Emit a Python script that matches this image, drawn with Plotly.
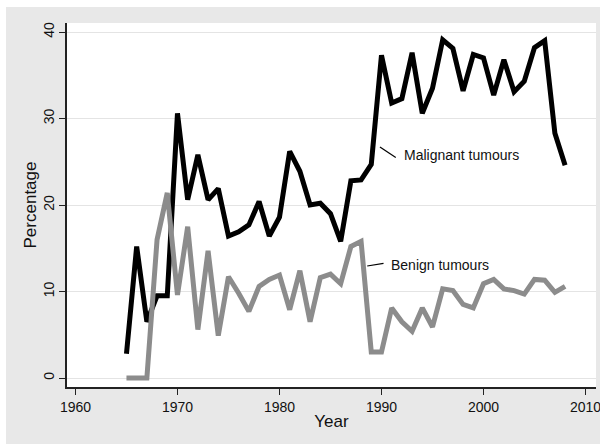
import plotly.graph_objects as go

years = list(range(1965, 2009))

malignant = [
    2.8, 15.2, 6.5, 9.5, 9.5, 30.6, 20.6, 25.8, 20.6, 21.9,
    16.4, 16.9, 17.7, 20.4, 16.4, 18.6, 26.2, 23.9, 20.0, 20.2,
    19.0, 15.8, 22.8, 22.9, 24.7, 37.3, 31.8, 32.3, 37.6, 30.6,
    33.5, 39.1, 38.1, 33.2, 37.4, 37.0, 32.7, 36.8, 33.1, 34.3,
    38.2, 39.0, 28.3, 24.6,
]
benign = [
    0.0, 0.0, 0.0, 16.0, 21.4, 9.6, 17.5, 5.6, 14.7, 4.9,
    11.7, 9.8, 7.7, 10.6, 11.4, 11.9, 7.9, 12.4, 6.5, 11.6,
    12.0, 10.9, 15.2, 15.8, 3.0, 3.0, 8.1, 6.5, 5.4, 8.1,
    5.9, 10.3, 10.1, 8.5, 8.1, 10.9, 11.4, 10.3, 10.1, 9.7,
    11.4, 11.3, 9.9, 10.6,
]

x_ticks = [1960, 1970, 1980, 1990, 2000, 2010]
y_ticks = [0, 10, 20, 30, 40]

_FONT = "Liberation Sans, Arial, sans-serif"
_GREY = "#8c8c8c"
_BG = "#e8e8e8"

fig = go.Figure()
fig.add_trace(go.Scatter(
    x=years, y=malignant, mode="lines",
    line=dict(color="black", width=5), name="Malignant tumours",
))
fig.add_trace(go.Scatter(
    x=years, y=benign, mode="lines",
    line=dict(color=_GREY, width=5), name="Benign tumours",
))

# label leader lines
fig.add_shape(type="line", x0=1989.85, y0=26.7, x1=1991.4, y1=25.5,
              line=dict(color="black", width=1.2))
fig.add_shape(type="line", x0=1988.6, y0=12.95, x1=1990.2, y1=13.26,
              line=dict(color="black", width=1.2))
fig.add_annotation(x=1992.0, y=25.8, text="Malignant tumours", showarrow=False,
                   xanchor="left", yanchor="middle",
                   font=dict(family=_FONT, size=14, color="#111"))
fig.add_annotation(x=1990.75, y=13.1, text="Benign tumours", showarrow=False,
                   xanchor="left", yanchor="middle",
                   font=dict(family=_FONT, size=14, color="#111"))

# thin white frame round the grey panel (left, top, right edges)
fig.add_shape(type="rect", xref="paper", yref="paper",
              x0=-67 / 529, x1=-61 / 529, y0=-57 / 364, y1=1 + 23 / 364,
              fillcolor="white", line=dict(width=0), layer="above")
fig.add_shape(type="rect", xref="paper", yref="paper",
              x0=-67 / 529, x1=1 + 7 / 529, y0=1 + 16 / 364, y1=1 + 23 / 364,
              fillcolor="white", line=dict(width=0), layer="above")
fig.add_shape(type="rect", xref="paper", yref="paper",
              x0=1 + 4 / 529, x1=1 + 7 / 529, y0=-57 / 364, y1=1 + 23 / 364,
              fillcolor="white", line=dict(width=0), layer="above")

fig.update_layout(
    width=603, height=444,
    margin=dict(l=67, r=7, t=23, b=57),
    paper_bgcolor=_BG,
    plot_bgcolor="white",
    showlegend=False,
    font=dict(family=_FONT, size=14, color="#111"),
    xaxis=dict(
        range=[1959.17, 2011.03], tickvals=x_ticks, automargin=False,
        showgrid=False, zeroline=False,
        showline=True, linecolor="#222", linewidth=1.5,
        ticks="outside", ticklen=6, tickcolor="#222",
        title=dict(text="Year", standoff=2),
    ),
    yaxis=dict(
        range=[-1.04, 41.04], tickvals=y_ticks, tickangle=-90, automargin=False,
        showgrid=True, gridcolor="#e4e4e4", gridwidth=1, zeroline=False,
        showline=True, linecolor="#222", linewidth=1.5,
        ticks="outside", ticklen=6, tickcolor="#222",
        title=dict(text="Percentage", standoff=0),
    ),
)

fig.write_html("out.html", config={"displayModeBar": False},
               post_script="document.body.style.margin='0';")
